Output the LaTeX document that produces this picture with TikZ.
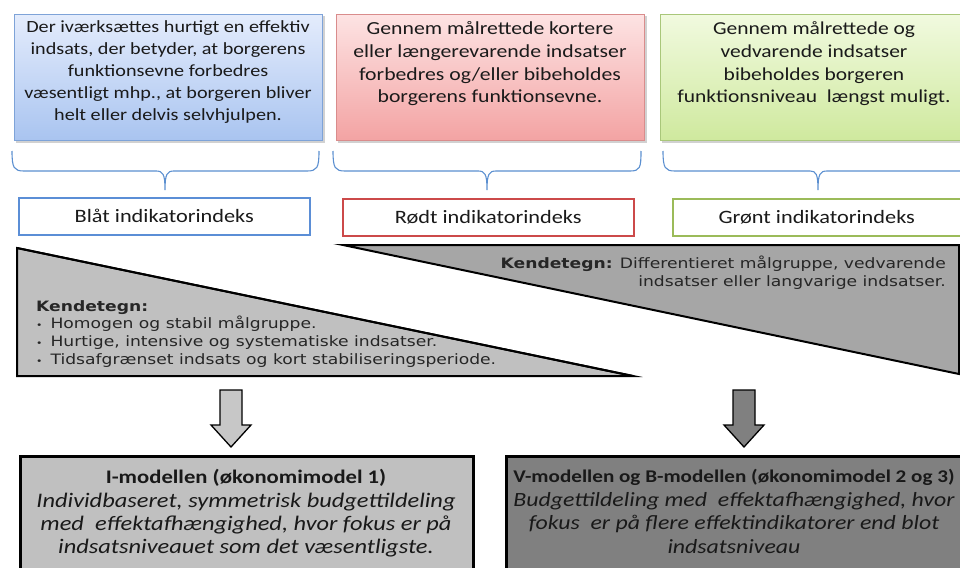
\documentclass[tikz,border=0pt]{standalone}
\usepackage{fontspec}
\setmainfont{Carlito}[FakeStretch=1.18]
\newfontfamily\verd{DejaVu Sans}[FakeStretch=1.2]
\usetikzlibrary{calc}
\definecolor{txt}{HTML}{1A1A1A}
\definecolor{bluebd}{HTML}{7EA3D8}
\definecolor{bluetop}{HTML}{E4ECFC}
\definecolor{bluebot}{HTML}{A9C4F0}
\definecolor{redbd}{HTML}{D98C8C}
\definecolor{redtop}{HTML}{FDE3E3}
\definecolor{redbot}{HTML}{F3A3A3}
\definecolor{greenbd}{HTML}{A9C77A}
\definecolor{greentop}{HTML}{F1FADF}
\definecolor{greenbot}{HTML}{CFE99E}
\definecolor{bracec}{HTML}{5B8FD0}
\definecolor{idxblue}{HTML}{5B8ED6}
\definecolor{idxred}{HTML}{CC4A4A}
\definecolor{idxgreen}{HTML}{9BBB59}
\definecolor{lightgr}{HTML}{C0C0C0}
\definecolor{midgr}{HTML}{A6A6A6}
\definecolor{darkgr}{HTML}{808080}
\tikzset{
  topbox/.style={draw, line width=1pt, minimum width=308pt, minimum height=126pt,
    anchor=north west, inner sep=0pt},
  toptext/.style={text=txt, align=center},
  idxbox/.style={draw, line width=1.6pt, fill=white, minimum width=291pt,
    minimum height=37pt, anchor=north west, inner sep=0pt, text=txt,
    font=\fontsize{18.9}{22}\selectfont},
  bracepath/.style={draw=bracec, line width=1.1pt},
  wedge/.style={draw=black, line width=2pt, line join=miter},
  blockarrow/.style={draw=black, line width=1.3pt, line join=miter},
  modelbox/.style={draw=black, line width=3pt, minimum width=453pt,
    minimum height=130pt, anchor=north west, inner sep=0pt},
  modeltext/.style={text=black!90, align=center,
    font=\fontsize{20.7}{23.4}\selectfont},
  ktext/.style={inner sep=0pt, text=black!85,
    font=\verd\fontsize{14.3}{17.8}\selectfont},
  shadowbox/.style={fill=black!18, draw=none}
}
\newcommand{\smallbul}{{\fontsize{9}{9}\selectfont•}\hspace{8pt}}
\begin{document}
\begin{tikzpicture}[x=1pt,y=-1pt]
\useasboundingbox (0,0) rectangle (960,567);
\clip (0,0) rectangle (960,567);

% --- description boxes along the top ---
\fill[shadowbox] (16,16) rectangle (325,143);
\fill[shadowbox] (338,16) rectangle (647,143);
\fill[shadowbox] (662,16) rectangle (980,143);
\node[topbox, draw=bluebd, top color=bluetop, bottom color=bluebot] (bluebox) at (14,14) {};
\node[topbox, draw=redbd, top color=redtop, bottom color=redbot] (redbox) at (336,14) {};
\node[topbox, draw=greenbd, top color=greentop, bottom color=greenbot] (greenbox) at (660,14) {};

\node[toptext, font=\fontsize{17.1}{21.8}\selectfont] (bluetext) at (168,72)
  {Der iværksættes hurtigt en effektiv\\indsats, der betyder, at borgerens\\funktionsevne forbedres\\væsentligt mhp., at borgeren bliver\\helt eller delvis selvhjulpen.};
\node[toptext, font=\fontsize{18.4}{22.7}\selectfont] (redtext) at (490,64)
  {Gennem målrettede kortere\\eller længerevarende indsatser\\forbedres og/eller bibeholdes\\borgerens funktionsevne.};
\node[toptext, font=\fontsize{18.2}{22.7}\selectfont] (greentext) at (814,64)
  {Gennem målrettede og\\vedvarende indsatser\\bibeholdes borgeren\\funktionsniveau\ \ længst muligt.};

% --- braces gathering each box into its index ---
\draw[bracepath] (12,151) .. controls (12,168) and (14,171) .. (24,171) -- (156,171)
  .. controls (163,171) and (165,174) .. (165,190)
  .. controls (165,174) and (167,171) .. (174,171) -- (307,171)
  .. controls (317,171) and (319,168) .. (319,151);
\draw[bracepath] (333,151) .. controls (333,168) and (335,171) .. (345,171) -- (478,171)
  .. controls (485,171) and (487,174) .. (487,190)
  .. controls (487,174) and (489,171) .. (496,171) -- (630,171)
  .. controls (640,171) and (641,168) .. (641,151);
\draw[bracepath] (663,151) .. controls (663,168) and (665,171) .. (675,171) -- (810,171)
  .. controls (816,171) and (818,174) .. (818,190)
  .. controls (818,174) and (820,171) .. (827,171) -- (980,171);

% --- index boxes ---
\node[idxbox, draw=idxblue] (blueidx) at (18,197) {Blåt indikatorindeks};
\node[idxbox, draw=idxred] (redidx) at (342,198) {Rødt indikatorindeks};
\node[idxbox, draw=idxgreen, minimum width=300pt] (greenidx) at (672,198) {\hspace{-12pt}Grønt indikatorindeks};

% --- characteristic wedges ---
\coordinate (lwA) at (17,248);
\coordinate (lwB) at (17,376);
\coordinate (lwC) at (633,376);
\filldraw[wedge, fill=lightgr] (lwA) -- (lwB) -- (lwC) -- cycle;
\coordinate (rwA) at (343,245);
\coordinate (rwB) at (959,245);
\coordinate (rwC) at (959,374);
\filldraw[wedge, fill=midgr] (rwA) -- (rwB) -- (rwC) -- cycle;

\node[ktext, anchor=north west, align=left] (leftkt) at (36,300)
  {\textbf{Kendetegn:}\\
   \smallbul Homogen og stabil målgruppe.\\
   \smallbul Hurtige, intensive og systematiske indsatser.\\
   \smallbul Tidsafgrænset indsats og kort stabiliseringsperiode.};
\draw[wedge, line width=2pt] (lwA) -- (lwC);

\node[ktext, anchor=north east, align=right] (rightkt) at (946,256)
  {\textbf{Kendetegn:} Differentieret målgruppe, vedvarende\\indsatser eller langvarige indsatser.};

% --- model boxes ---
\node[modelbox, fill=lightgr] (imodel) at (19,455) {};
\node[modelbox, fill=darkgr, minimum width=470pt] (vmodel) at (505,455) {};
\node[modeltext, anchor=north] (itext) at (246,466)
  {{\fontsize{19.2}{23.4}\selectfont\textbf{I-modellen (økonomimodel 1)}}\\
   \textit{Individbaseret, symmetrisk budgettildeling}\\
   \textit{med\ \ effektafhængighed, hvor fokus er på}\\
   \textit{indsatsniveauet som det væsentligste.}};
\node[modeltext, anchor=north] (vtext) at (734,466)
  {{\fontsize{17.9}{23.4}\selectfont\textbf{V-modellen og B-modellen (økonomimodel 2 og 3)}}\\
   {\fontsize{20.2}{23.4}\selectfont\textit{Budgettildeling med\ \ effektafhængighed, hvor}}\\
   {\fontsize{20.2}{23.4}\selectfont\textit{fokus\ \ er på flere effektindikatorer end blot}}\\
   {\fontsize{20.2}{23.4}\selectfont\textit{indsatsniveau}}};

% --- block arrows from wedges to models ---
\coordinate (la) at (231,390);
\coordinate (ra) at (744,390);
\filldraw[blockarrow, fill=black!22]
  ($(la)+(-11,0)$) -- ($(la)+(11,0)$) -- ($(la)+(11,35)$) -- ($(la)+(20,35)$)
  -- ($(la)+(0,57)$) -- ($(la)+(-20,35)$) -- ($(la)+(-11,35)$) -- cycle;
\filldraw[blockarrow, fill=black!50]
  ($(ra)+(-11,0)$) -- ($(ra)+(11,0)$) -- ($(ra)+(11,35)$) -- ($(ra)+(20,35)$)
  -- ($(ra)+(0,57)$) -- ($(ra)+(-20,35)$) -- ($(ra)+(-11,35)$) -- cycle;
\end{tikzpicture}
\end{document}
